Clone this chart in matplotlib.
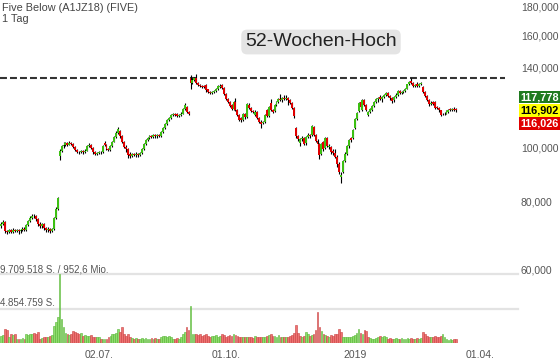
import numpy as np
import pandas as pd
import matplotlib
matplotlib.use('Agg')
import matplotlib.pyplot as plt
import matplotlib.transforms as mtransforms
from matplotlib.ticker import FixedLocator, FuncFormatter, NullLocator

plt.rcParams['font.family'] = ['Liberation Sans', 'DejaVu Sans']
plt.rcParams['lines.scale_dashes'] = False

# daily candles (trading days from 23.04.2018), prices in USD
first_day = '2018-04-23'
opens = [72.0, 72.8, 73.2, 70.6, 70.3, 70.8, 70.4, 70.9, 70.6, 70.9, 70.5, 70.9, 71.3, 71.0, 72.3, 73.5, 74.6, 75.3, 75.0, 74.2,
         72.8, 72.2, 72.6, 71.4, 70.9, 71.3, 70.7, 71.2, 74.5, 77.5, 96.5, 98.8, 100.5, 101.2, 101.8, 101.3, 101.9, 101.6, 100.4, 99.2,
         98.2, 98.0, 98.5, 98.1, 98.8, 100.6, 101.3, 99.8, 98.0, 97.4, 97.8, 98.3, 98.0, 102.0, 101.0, 99.5, 99.2, 100.5, 102.5, 104.5,
         106.5, 107.0, 104.8, 102.3, 100.4, 99.5, 97.5, 96.5, 97.3, 97.0, 97.5, 96.8, 97.6, 99.5, 101.5, 103.3, 104.2, 105.0, 104.6, 105.5,
         104.8, 105.3, 105.0, 106.8, 108.5, 110.5, 112.0, 113.3, 114.5, 115.2, 115.3, 114.3, 114.8, 115.3, 117.5, 118.5, 116.0, 133.5, 131.0, 132.5,
         133.8, 131.0, 130.0, 129.5, 129.2, 130.0, 127.5, 126.0, 125.8, 126.0, 126.8, 127.8, 129.0, 130.0, 128.5, 125.0, 122.5, 121.0, 119.5, 117.5,
         121.0, 117.0, 114.5, 113.0, 112.0, 115.0, 113.5, 119.5, 118.0, 116.5, 114.5, 116.0, 113.0, 111.5, 110.8, 111.5, 117.0, 114.0, 120.5, 117.0,
         116.5, 119.5, 121.0, 122.5, 122.0, 122.8, 122.3, 123.0, 121.8, 120.5, 118.0, 108.5, 104.8, 101.8, 103.5, 104.0, 101.8, 104.5, 105.4, 105.5,
         109.0, 105.5, 103.0, 101.5, 97.5, 102.5, 100.0, 104.0, 100.3, 100.3, 98.8, 97.8, 96.2, 93.5, 88.3, 90.5, 94.5, 97.5, 100.5, 104.0,
         104.0, 108.5, 112.5, 116.5, 121.0, 117.0, 122.0, 119.5, 114.5, 116.0, 117.0, 118.8, 121.0, 122.5, 123.3, 122.6, 123.4, 124.5, 125.6, 124.0,
         122.8, 121.8, 123.5, 124.8, 126.8, 125.6, 126.0, 126.6, 128.0, 130.5, 132.0, 131.0, 129.5, 130.2, 129.5, 130.6, 129.0, 126.3, 124.3, 122.0,
         119.8, 120.8, 120.8, 118.5, 118.0, 116.8, 115.3, 115.0, 115.3, 116.2, 117.3, 117.0, 117.6, 117.5]
highs = [73.4, 73.8, 73.6, 71.0, 71.3, 71.2, 71.4, 71.3, 71.3, 71.2, 71.3, 71.8, 71.7, 72.7, 73.9, 75.0, 75.8, 75.9, 75.4, 74.5,
         73.3, 73.0, 72.9, 71.8, 71.7, 71.6, 71.6, 74.9, 77.9, 81.5, 99.5, 101.0, 102.2, 102.5, 102.4, 102.6, 102.3, 101.9, 100.8, 99.6,
         98.7, 99.0, 99.0, 99.3, 101.0, 101.8, 101.6, 100.1, 98.4, 98.3, 98.7, 98.8, 101.2, 102.6, 101.4, 100.0, 100.9, 102.9, 104.9, 107.0,
         109.0, 107.5, 105.2, 102.7, 100.9, 99.9, 98.0, 97.8, 97.9, 98.0, 97.9, 98.1, 99.9, 101.9, 103.7, 104.7, 105.6, 105.5, 105.8, 106.0,
         105.8, 105.7, 107.2, 108.9, 110.9, 112.5, 113.6, 115.0, 115.7, 115.7, 115.8, 115.3, 115.9, 118.0, 120.6, 118.9, 116.5, 135.6, 133.5, 134.6,
         136.0, 131.6, 130.6, 130.1, 129.8, 130.5, 128.0, 126.6, 126.6, 127.3, 128.3, 129.7, 130.3, 130.6, 128.9, 125.5, 123.0, 121.5, 120.0, 121.6,
         123.0, 117.5, 115.0, 113.6, 115.5, 115.6, 120.6, 120.3, 118.5, 117.2, 116.8, 116.5, 113.6, 112.0, 111.9, 115.0, 117.6, 119.0, 122.3, 117.6,
         120.0, 121.6, 123.0, 125.0, 123.5, 124.5, 124.8, 123.5, 122.4, 121.0, 118.5, 109.2, 105.4, 104.0, 104.8, 104.5, 105.0, 106.3, 106.0, 109.9,
         109.5, 106.0, 103.6, 102.0, 102.0, 103.0, 104.6, 104.5, 101.4, 100.8, 99.3, 99.5, 96.8, 94.0, 90.2, 95.0, 98.0, 101.0, 103.8, 104.6,
         108.0, 113.0, 116.0, 121.0, 121.6, 122.6, 122.5, 120.0, 116.6, 118.0, 119.4, 121.5, 123.0, 123.6, 124.6, 124.0, 125.2, 126.1, 126.2, 124.5,
         123.3, 124.0, 125.4, 127.0, 127.3, 126.8, 127.1, 128.5, 130.7, 132.2, 134.0, 131.6, 130.6, 131.5, 131.1, 131.8, 129.5, 126.8, 124.8, 122.5,
         121.3, 121.4, 121.3, 119.0, 118.5, 117.2, 115.8, 115.9, 116.8, 117.6, 117.9, 118.1, 118.3, 117.8]
lows = [71.6, 72.3, 70.1, 69.6, 69.9, 69.9, 70.0, 70.2, 70.2, 69.8, 70.1, 70.6, 70.6, 70.7, 72.0, 73.2, 74.2, 74.5, 73.7, 72.2,
        71.5, 71.6, 70.8, 70.2, 70.4, 70.0, 70.3, 71.0, 74.2, 77.2, 94.8, 98.2, 100.0, 100.7, 100.8, 100.9, 101.0, 99.9, 98.7, 97.6,
        97.3, 97.6, 97.5, 97.7, 98.5, 100.1, 99.3, 97.4, 96.8, 97.0, 97.4, 97.5, 97.8, 100.6, 99.0, 98.6, 98.8, 100.2, 102.2, 104.2,
        106.0, 104.3, 101.8, 99.8, 98.2, 95.8, 95.9, 96.0, 96.4, 96.1, 96.3, 96.4, 97.3, 99.2, 101.2, 102.9, 103.8, 104.1, 104.2, 104.2,
        104.3, 104.5, 104.7, 106.5, 108.2, 110.1, 111.6, 112.9, 114.1, 114.2, 113.6, 113.8, 114.3, 115.0, 117.1, 115.4, 114.4, 127.5, 130.4, 131.9,
        130.5, 129.4, 128.9, 128.4, 128.1, 126.4, 125.4, 125.0, 125.1, 125.5, 126.4, 127.4, 128.5, 128.0, 124.5, 122.0, 120.4, 118.5, 116.9, 117.0,
        116.5, 114.0, 111.6, 111.3, 111.6, 112.8, 113.0, 117.4, 116.0, 115.4, 114.0, 112.5, 110.8, 108.6, 110.2, 111.0, 113.5, 113.6, 116.5, 115.4,
        116.0, 119.0, 120.6, 121.5, 121.2, 121.8, 121.9, 119.5, 120.0, 117.5, 113.3, 103.9, 102.8, 100.8, 102.9, 100.9, 101.2, 104.0, 104.3, 105.1,
        104.9, 102.4, 100.5, 95.4, 97.0, 98.7, 99.5, 100.2, 99.6, 97.3, 96.8, 95.6, 92.4, 89.6, 86.3, 90.0, 94.0, 97.0, 100.0, 102.5,
        103.5, 108.0, 112.0, 116.0, 118.0, 116.5, 119.0, 116.4, 113.9, 115.6, 116.5, 118.3, 120.5, 121.2, 122.0, 121.2, 122.9, 124.0, 123.5, 121.8,
        120.6, 121.2, 123.0, 124.3, 125.0, 125.0, 125.5, 126.1, 127.6, 130.0, 130.4, 128.8, 128.9, 128.6, 129.0, 130.0, 125.7, 123.7, 121.4, 119.2,
        119.3, 119.6, 117.6, 117.4, 116.2, 114.0, 114.4, 114.5, 114.9, 115.8, 116.5, 116.6, 116.5, 116.0]
closes = [72.8, 73.2, 70.6, 70.2, 70.8, 70.4, 70.9, 70.6, 70.9, 70.5, 70.9, 71.3, 71.0, 72.3, 73.5, 74.6, 75.3, 75.0, 74.2, 72.8,
          72.2, 72.6, 71.4, 70.9, 71.3, 70.7, 71.2, 74.5, 77.5, 81.0, 98.8, 100.5, 101.2, 101.8, 101.3, 101.9, 101.6, 100.4, 99.2, 98.2,
          98.0, 98.5, 98.1, 98.8, 100.6, 101.3, 99.8, 98.0, 97.4, 97.8, 98.3, 98.0, 100.8, 101.0, 99.5, 99.2, 100.5, 102.5, 104.5, 106.5,
          108.0, 104.8, 102.3, 100.4, 99.3, 97.0, 96.5, 97.3, 97.0, 97.5, 96.8, 97.6, 99.5, 101.5, 103.3, 104.2, 105.0, 104.6, 105.2, 104.8,
          105.3, 105.0, 106.8, 108.5, 110.5, 112.0, 113.0, 114.5, 115.2, 114.8, 114.3, 114.8, 115.3, 117.5, 119.5, 116.0, 115.0, 131.0, 132.8, 133.5,
          131.0, 130.0, 129.5, 129.0, 128.8, 127.0, 126.0, 125.8, 126.0, 126.8, 127.8, 129.2, 129.6, 128.5, 125.0, 122.5, 121.0, 119.0, 117.5, 121.0,
          117.0, 114.5, 112.3, 112.0, 115.0, 113.5, 120.0, 118.0, 116.5, 116.0, 116.2, 113.0, 111.5, 110.5, 111.3, 114.5, 114.0, 118.5, 117.0, 116.0,
          119.5, 121.0, 122.5, 122.0, 122.8, 122.3, 123.0, 121.8, 120.5, 118.0, 114.0, 104.8, 103.8, 103.5, 104.2, 101.5, 104.5, 105.2, 104.9, 109.3,
          105.5, 103.0, 101.5, 97.0, 101.5, 99.5, 104.0, 100.8, 100.8, 98.0, 97.6, 96.2, 93.5, 90.5, 89.3, 94.5, 97.5, 100.5, 103.3, 103.3,
          107.5, 112.5, 115.5, 120.5, 118.5, 122.0, 119.5, 117.0, 116.0, 117.5, 118.8, 121.0, 122.5, 123.0, 122.6, 123.4, 124.5, 125.6, 124.0, 122.8,
          121.4, 123.5, 124.8, 126.5, 125.6, 126.2, 126.6, 128.0, 130.2, 131.6, 131.0, 129.5, 130.0, 129.2, 130.6, 131.0, 126.3, 124.3, 122.0, 119.8,
          120.6, 120.2, 118.2, 118.0, 116.8, 114.6, 115.0, 115.3, 116.3, 117.0, 117.0, 117.5, 117.0, 116.9]
# volume in million shares
volumes = [1.0, 1.1, 2.0, 1.8, 0.9, 1.2, 1.1, 1.3, 0.6, 0.5, 0.6, 0.7, 0.6, 1.2, 1.1, 1.3, 1.2, 1.4, 1.3, 1.5,
           0.6, 0.7, 0.9, 0.9, 0.8, 1.0, 1.1, 2.4, 3.0, 3.7, 9.709518, 3.4, 2.3, 1.4, 1.2, 1.1, 1.2, 1.7, 1.6, 1.4,
           1.3, 1.4, 1.0, 1.1, 1.0, 1.0, 1.1, 0.9, 0.9, 0.8, 0.9, 0.6, 0.6, 0.6, 0.6, 0.8, 1.0, 1.2, 1.3, 1.4,
           2.0, 1.6, 2.2, 1.3, 1.0, 1.2, 0.9, 0.7, 0.6, 0.7, 0.6, 0.6, 0.7, 0.6, 0.7, 0.6, 0.6, 0.7, 0.6, 0.7,
           0.6, 0.6, 0.8, 1.0, 1.0, 0.9, 1.0, 0.8, 0.6, 0.6, 0.7, 0.6, 0.9, 1.2, 1.6, 2.2, 1.8, 5.2, 1.3, 1.2,
           1.3, 1.1, 1.2, 1.0, 1.1, 1.2, 1.0, 0.9, 1.0, 1.0, 1.1, 0.9, 1.0, 1.3, 1.1, 0.9, 1.0, 1.1, 1.0, 1.2,
           1.1, 1.0, 0.9, 0.8, 0.9, 0.8, 0.9, 0.8, 0.8, 0.7, 1.0, 0.8, 0.8, 0.9, 0.8, 0.9, 1.0, 1.1, 1.2, 1.0,
           1.0, 0.9, 1.1, 0.9, 0.8, 0.9, 0.8, 0.9, 1.0, 1.1, 1.4, 2.5, 1.4, 1.0, 0.9, 1.0, 1.6, 1.2, 1.0, 1.1,
           1.2, 1.8, 4.4, 2.2, 1.7, 1.2, 1.1, 1.0, 0.9, 1.1, 1.0, 1.2, 1.3, 2.0, 1.5, 0.9, 0.8, 0.8, 0.9, 0.8,
           1.0, 1.1, 1.4, 2.0, 1.4, 1.3, 1.8, 1.7, 0.8, 0.7, 0.6, 0.6, 0.7, 0.8, 1.0, 0.9, 1.0, 0.8, 0.6, 0.7,
           0.6, 0.6, 0.7, 0.6, 0.6, 0.7, 0.6, 0.6, 0.7, 0.6, 0.7, 0.6, 0.6, 0.7, 0.6, 0.7, 1.5, 1.3, 1.0, 0.9,
           0.8, 0.9, 1.0, 0.8, 0.9, 1.0, 1.2, 0.8, 0.5, 0.4, 0.5, 0.4, 0.6, 0.5]

vol_max = 9709518
turnover = '952,6 Mio.'
high_52w = 133.8
quote_values = ['117,778', '116,902', '116,026']
quote_colors = ['#1f7a1f', '#ffff00', '#e00000']
quote_text_colors = ['white', 'black', 'white']
price_ticks = [60, 80, 100, 140, 160, 180]
date_ticks = ['2018-07-02', '2018-10-01', '2019-01-01', '2019-04-01']
date_labels = ['02.07.', '01.10.', '2019', '01.04.']

n = len(closes)
assert len(opens) == len(highs) == len(lows) == len(volumes) == n
days = pd.bdate_range(first_day, periods=n + 60)
idx = np.arange(n)
tick_pos = [days.get_loc(pd.Timestamp(d)) for d in date_ticks]

o = np.array(opens)
c = np.array(closes)
up = c >= o
# volume colour follows the change against the previous close
vol_up = np.r_[True, c[1:] >= c[:-1]]

W, H = 560, 363
fig = plt.figure(figsize=(W / 100, H / 100), dpi=100)
fig.patch.set_facecolor('white')
ax_w = 518 / W
ax_vol = fig.add_axes([0, 20 / H, ax_w, 69 / H])
ax = fig.add_axes([0, 20 / H, ax_w, 343 / H])
ax.patch.set_alpha(0)
xlim = (-0.5, 264.6)

# volume panel
ax_vol.bar(idx, volumes, width=0.9,
           color=np.where(vol_up, '#8fdc6e', '#ee7272'),
           edgecolor=np.where(vol_up, '#55b533', '#c94040'), linewidth=0.4, zorder=2)
ax_vol.axhline(vol_max / 1e6, color='#e3e3e3', lw=1.6, clip_on=False, zorder=0)
ax_vol.axhline(vol_max / 2e6, color='#e3e3e3', lw=1.6, clip_on=False, zorder=0)
ax_vol.set_ylim(0, vol_max / 1e6)
ax_vol.set_xlim(*xlim)
ax_vol.set_yticks([])
ax_vol.set_xticks(tick_pos, date_labels)
ax_vol.tick_params(axis='x', length=0, pad=5, labelsize=7.5, labelcolor='#555555')
for s in ax_vol.spines.values():
    s.set_visible(False)
fmt_vol = lambda v: f'{v:,}'.replace(',', '.')
ax_vol.text(0.0, 1.0, f'{fmt_vol(vol_max)} S. / {turnover}', transform=ax_vol.transAxes,
            fontsize=7, color='#555555', va='bottom', ha='left')
ax_vol.text(0.0, 0.5, f'{fmt_vol(vol_max // 2)} S.', transform=ax_vol.transAxes,
            fontsize=7, color='#555555', va='bottom', ha='left')

# candles
ax.vlines(idx, lows, highs, color='black', lw=0.8, zorder=2)
ax.bar(idx, c - o, bottom=o, width=1.0, color=np.where(up, '#3cbf12', '#e00000'),
       linewidth=0, zorder=3)
ax.axhline(high_52w, xmin=0, xmax=505 / 518, color='#333333', lw=1.5,
           linestyle=(0, (5, 2.2)), zorder=1)

ax.set_yscale('log')
ax.set_ylim(44.2, 185.3)
ax.set_xlim(*xlim)
ax.yaxis.set_major_locator(FixedLocator(price_ticks))
ax.yaxis.set_minor_locator(NullLocator())
ax.yaxis.set_major_formatter(FuncFormatter(lambda v, p: f'{v:.3f}'.replace('.', ',')))
ax.yaxis.tick_right()
ax.tick_params(axis='y', length=0, pad=2, labelsize=7.5, labelcolor='#555555')
ax.set_xticks([])
for s in ax.spines.values():
    s.set_visible(False)

# current quote boxes on the right
trans = mtransforms.blended_transform_factory(ax.transAxes, ax.transData)
for k, (txt, bg, fg) in enumerate(zip(quote_values, quote_colors, quote_text_colors)):
    t = mtransforms.offset_copy(trans, fig=fig, x=0, y=(1 - k) * 9.5, units='points')
    ax.text(1.004, closes[-1], txt, transform=t, fontsize=7.8, color=fg, fontweight='bold',
            ha='left', va='center',
            bbox=dict(boxstyle='square,pad=0.12', fc=bg, ec='none'))

fig.text(2 / W, 1 - 8 / H, 'Five Below (A1JZ18) (FIVE)', fontsize=7.8, color='#444444', va='center')
fig.text(2 / W, 1 - 19 / H, '1 Tag', fontsize=7.8, color='#444444', va='center')
fig.text(321 / W, 1 - 42 / H, '52-Wochen-Hoch', fontsize=14, color='#222222', ha='center', va='center',
         bbox=dict(boxstyle='round,pad=0.2,rounding_size=0.3', fc='#e4e4e4', ec='none'))

fig.savefig('out.png', dpi=100, facecolor='white')
